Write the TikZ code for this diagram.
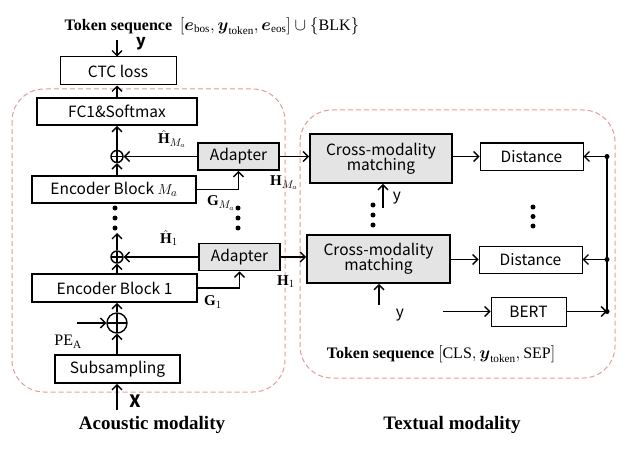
\documentclass[tikz,border=0pt]{standalone}
\usepackage{amsmath,amssymb}
\usepackage{fontspec}
\setmainfont{Liberation Serif}
\newfontfamily\gothic{Noto Sans CJK JP}
\usetikzlibrary{arrows.meta,positioning,calc}
\definecolor{frame}{HTML}{E89A9A}
\definecolor{boxgray}{HTML}{E4E4E4}
\newcommand{\tokseq}{\bfseries Token sequence}

\begin{document}
\begin{tikzpicture}[
  x=1pt, y=-1pt,
  every node/.style={font=\gothic\fontsize{15.5}{16}\selectfont},
  blk/.style={draw, line width=1.6pt, inner sep=0pt, minimum height=27pt},
  thinblk/.style={draw, line width=1pt, inner sep=0pt, minimum height=27pt},
  gblk/.style={blk, fill=boxgray},
  arr/.style={line width=1.4pt, -{Straight Barb[length=5pt,width=10pt]}},
  ln/.style={line width=1.4pt},
  sum/.style={circle, draw, line width=1.4pt, inner sep=0pt, minimum size=#1,
    path picture={\draw[line width=1.2pt]
      (path picture bounding box.north) -- (path picture bounding box.south)
      (path picture bounding box.west) -- (path picture bounding box.east);}},
  sum/.default=12pt,
  dot/.style={circle, fill, inner sep=0pt, minimum size=5pt},
  jdot/.style={circle, fill, inner sep=0pt, minimum size=5pt},
  modal/.style={draw=frame, dash pattern=on 5pt off 3pt, line width=1pt, rounded corners=32pt},
  lbl/.style={font=\fontsize{15}{16}\selectfont, inner sep=1pt},
  seqtxt/.style={font=\fontsize{16}{17}\selectfont},
  modcap/.style={font=\fontsize{19}{20}\selectfont\bfseries}
]
  \useasboundingbox (0,0) rectangle (630,452);

  % modality frames
  \draw[modal] (12,89) rectangle (285,392);
  \draw[modal] (300,110) rectangle (615,378);

  % Acoustic branch
  \node[thinblk, minimum width=116pt, minimum height=28pt] (ctc) at (118,71) {CTC loss};
  \node[blk, minimum width=160pt] (fc) at (117,111.5) {FC1\&Softmax};
  \node[sum] (sumM) at (117,156.5) {};
  \node[gblk, minimum width=81pt] (adM) at (238.5,156.5) {Adapter};
  \node[blk, minimum width=164pt] (encM) at (114,189.5) {Encoder Block $M_a$};
  \node[sum] (sum1) at (117,257) {};
  \node[gblk, minimum width=81pt] (ad1) at (239.5,257) {Adapter};
  \node[blk, minimum width=165pt, minimum height=28pt] (enc1) at (114.5,288) {Encoder Block 1};
  \node[sum=20pt] (sumPE) at (117,323) {};
  \node[blk, minimum width=125pt, minimum height=28pt] (sub) at (117.5,369) {Subsampling};

  \coordinate (yin) at (117,40);
  \coordinate (xin) at (117,410);
  \coordinate (pein) at (77,323);
  \coordinate (up1) at (117,233);

  \draw[arr] (yin) -- (yin |- ctc.north);
  \draw[arr] (fc.north -| yin) -- (yin |- ctc.south);
  \draw[arr] (sumM) -- (sumM |- fc.south);
  \draw[arr] (encM.north -| sumM) -- (sumM.south);
  \draw[arr] (adM.west) -- (sumM.east);
  \draw[arr] (encM.east) -| (adM.south);
  \draw[arr] (sum1.north) -- (up1);
  \draw[arr] (enc1.north -| sum1) -- (sum1.south);
  \draw[arr] (ad1.west) -- (sum1.east);
  \draw[arr] (enc1.east) -| (ad1.south);
  \draw[arr] (sumPE.north) -- (sumPE |- enc1.south);
  \draw[arr] (sub.north -| sumPE) -- (sumPE.south);
  \draw[arr] (pein) -- (sumPE.west);
  \draw[arr] (xin) -- (xin |- sub.south);

  \foreach \yy in {208,218,228} {
    \node[dot] at (115,\yy) {};
    \node[dot] at (238,\yy) {};
  }

  % Labels of the acoustic branch
  \node[seqtxt] (toptxt) at (212,26)
    {\tokseq\ \ $[\boldsymbol{e}_{\mathrm{bos}},\boldsymbol{y}_{\mathrm{token}},\boldsymbol{e}_{\mathrm{eos}}]\cup\{\mathrm{BLK}\}$};
  \node[font=\gothic\bfseries\fontsize{16}{17}\selectfont] (ylbl) at (141,44) {y};
  \node[lbl] (hhM) at (172,139) {$\hat{\mathbf{H}}_{M_a}$};
  \node[lbl] (gM) at (221,203) {$\mathbf{G}_{M_a}$};
  \node[lbl] (hM) at (284,183) {$\mathbf{H}_{M_a}$};
  \node[lbl] (hh1) at (169,238) {$\hat{\mathbf{H}}_{1}$};
  \node[lbl] (g1) at (213,302) {$\mathbf{G}_{1}$};
  \node[lbl] (h1) at (286,282) {$\mathbf{H}_{1}$};
  \node[font=\fontsize{16}{17}\selectfont] (pe) at (68,342) {PE$_{\mathrm{A}}$};
  \node[font=\gothic\bfseries\fontsize{17}{18}\selectfont] (xlbl) at (135,401) {X};

  % Textual branch
  \node[gblk, minimum width=142pt, minimum height=49pt, align=center] (cmmM) at (381,158.5) {Cross-modality\\[-1pt]matching};
  \node[gblk, minimum width=143pt, minimum height=48pt, align=center] (cmm1) at (378.5,259) {Cross-modality\\[-1pt]matching};
  \node[thinblk, minimum width=103pt] (distM) at (531.5,156.5) {Distance};
  \node[thinblk, minimum width=103pt] (dist1) at (530.5,259.5) {Distance};
  \node[thinblk, minimum width=75pt, minimum height=29pt] (bert) at (528.5,311.5) {BERT};

  \coordinate (jM) at (607,156.5);
  \coordinate (j1) at (607,259.5);
  \coordinate (jB) at (607,311.5);
  \coordinate (ycm) at (383,208);
  \coordinate (yc1) at (379,305);
  \coordinate (ybert) at (443,311.5);

  \draw[arr] (adM.east) -- (cmmM.west |- adM.east);
  \draw[arr] (ad1.east) -- (cmm1.west |- ad1.east);
  \draw[arr] (cmmM.east |- distM) -- (distM.west);
  \draw[arr] (cmm1.east |- dist1) -- (dist1.west);
  \draw[arr] (ycm) -- (ycm |- cmmM.south);
  \draw[arr] (yc1) -- (yc1 |- cmm1.south);
  \draw[arr] (ybert) -- (bert.west);
  \draw[ln] (jM) -- (jB);
  \draw[arr] (jM) -- (distM.east);
  \draw[arr] (j1) -- (dist1.east);
  \draw[arr] (bert.east) -- (jB);
  \foreach \j in {jM,j1,jB} \node[jdot] at (\j) {};

  \foreach \yy in {205,215,225} \node[dot] at (373,\yy) {};
  \foreach \yy in {207,216.5,226} \node[dot] at (533,\yy) {};

  \node (ylblM) at (397,198) {y};
  \node (ylbl1) at (400,315) {y};
  \node[seqtxt] (bottxt) at (441,354)
    {\tokseq\ $[\mathrm{CLS},\boldsymbol{y}_{\mathrm{token}},\mathrm{SEP}]$};

  % Captions
  \node[modcap] (capA) at (152,425) {Acoustic modality};
  \node[modcap] (capT) at (452,425) {Textual modality};
\end{tikzpicture}
\end{document}
